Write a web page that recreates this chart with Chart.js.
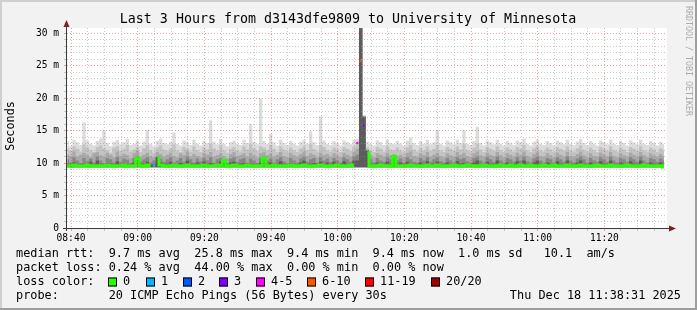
<!DOCTYPE html>
<html><head><meta charset="utf-8">
<script src="https://cdn.jsdelivr.net/npm/chart.js@4.4.1/dist/chart.umd.min.js"></script>
<style>
html,body{margin:0;padding:0;background:#f2f2f2;}
canvas{display:block;}
</style></head><body>
<canvas id="c" width="697" height="310"></canvas>
<script>
// ---- data (minutes after 08:00, one step per minute) ----
const firstStep = 38.9;
const stepMin = 1;
const smokeFloor = 9.35;

const smokeTop = [
13.4,12.6,13.6,13.2,12.8,16.3,13.5,13.0,12.7,13.4,
13.8,15.0,13.1,12.6,13.3,13.6,12.9,13.2,13.7,12.8,
13.0,13.5,12.7,13.3,15.1,13.0,12.6,13.4,13.8,13.1,
12.9,13.3,14.7,13.0,12.7,13.5,13.2,12.8,13.6,13.0,
12.7,13.4,13.1,16.6,13.3,12.9,13.7,13.0,12.6,13.2,
13.5,13.0,12.8,13.6,13.1,16.0,13.3,12.9,20.0,13.4,
13.0,14.5,13.2,12.7,13.6,13.1,12.8,13.4,13.0,12.7,
13.3,13.6,13.0,14.9,13.2,12.8,17.2,13.5,13.0,12.8,
13.4,13.1,12.7,13.5,13.2,12.9,13.6,13.7,31.0,17.3,
13.3,13.0,12.7,13.5,13.2,12.8,13.6,13.1,12.9,13.4,
13.0,12.7,13.5,13.9,13.1,12.8,13.4,13.0,13.6,12.9,
13.2,15.1,13.0,12.7,13.5,13.2,12.9,13.6,13.1,15.1,
13.0,12.8,13.4,15.6,13.1,12.7,13.5,13.2,12.9,13.6,
13.0,12.7,13.4,13.1,12.8,13.5,13.2,13.8,13.0,12.7,
13.3,13.6,13.0,12.8,13.4,13.1,12.7,13.5,13.2,12.9,
13.6,13.0,12.8,13.3,13.7,13.1,12.8,13.4,13.0,12.7,
13.5,13.2,12.9,13.6,13.0,12.8,13.4,13.1,12.7,13.5,
13.2,12.9,13.6,13.0,12.8,13.4,13.1,12.7,13.3,13.0];

const smokeUpper = [
12.3,11.9,12.6,12.2,11.8,12.9,12.4,12.0,11.7,12.5,
12.7,12.3,12.0,11.6,12.4,12.6,11.9,12.2,12.8,11.8,
12.1,12.5,11.7,12.3,12.8,12.0,11.6,12.4,12.7,12.1,
11.9,12.3,12.9,12.0,11.7,12.5,12.2,11.8,12.6,12.0,
11.7,12.4,12.1,13.0,12.3,11.9,12.7,12.0,11.6,12.2,
12.5,12.0,11.8,12.6,12.1,12.9,12.3,11.9,12.6,12.4,
12.0,12.8,12.2,11.7,12.6,12.1,11.8,12.4,12.0,11.7,
12.3,12.6,12.0,12.9,12.2,11.8,12.8,12.5,12.0,11.8,
12.4,12.1,11.7,12.5,12.2,11.9,12.6,12.9,31.0,17.3,
12.4,12.0,11.7,12.5,12.2,11.8,12.6,12.1,12.0,12.4,
12.0,11.7,12.5,12.8,12.1,11.8,12.4,12.0,12.6,11.9,
12.2,12.8,12.0,11.7,12.5,12.2,11.9,12.6,12.1,12.9,
12.0,11.8,12.4,13.0,12.1,11.7,12.5,12.2,11.9,12.6,
12.0,11.7,12.4,12.1,11.8,12.5,12.2,12.8,12.0,11.7,
12.3,12.6,12.0,11.8,12.4,12.1,11.7,12.5,12.2,11.9,
12.6,12.0,11.8,12.3,12.7,12.1,11.8,12.4,12.0,11.7,
12.5,12.2,11.9,12.6,12.0,11.8,12.4,12.1,11.7,12.5,
12.2,11.9,12.6,12.0,11.8,12.4,12.1,11.7,12.3,12.0];

const smokeMid = [
11.4,11.1,11.8,11.0,11.3,11.6,11.2,10.9,11.5,11.7,
11.2,11.0,11.6,11.3,10.9,11.8,11.1,11.4,11.2,10.8,
11.5,11.9,11.0,11.3,11.6,11.1,10.9,11.7,11.4,11.0,
11.3,11.6,11.1,10.9,11.5,11.2,11.8,11.0,11.4,11.1,
10.9,11.6,11.3,11.7,11.0,11.2,11.5,11.1,10.8,11.4,
11.7,11.1,11.3,11.5,11.0,11.6,11.2,10.9,11.5,11.7,
11.2,11.5,11.0,11.3,11.7,11.1,10.9,11.6,11.2,11.0,
11.4,11.8,11.1,11.5,11.3,10.9,11.6,11.2,11.4,11.0,
11.5,11.2,10.9,11.6,11.3,11.0,11.7,12.2,31.0,17.3,
12.1,11.2,10.9,11.5,11.3,11.0,11.6,11.2,11.4,11.1,
11.3,10.9,11.6,11.8,11.1,11.0,11.5,11.2,11.7,11.0,
11.3,11.6,11.1,10.9,11.5,11.2,11.0,11.7,11.3,11.6,
11.1,10.9,11.5,11.8,11.2,11.0,11.6,11.3,11.1,11.7,
11.2,10.9,11.5,11.3,11.0,11.6,11.2,11.8,11.1,10.9,
11.4,11.7,11.1,11.0,11.5,11.2,10.9,11.6,11.3,11.0,
11.7,11.1,11.0,11.4,11.8,11.2,10.9,11.5,11.1,11.0,
11.6,11.3,11.0,11.7,11.1,10.9,11.5,11.2,11.0,11.6,
11.3,11.0,11.7,11.2,10.9,11.5,11.2,11.0,11.4,11.1];

const smokeLower = [
10.6,10.1,10.9,10.4,10.0,10.8,10.3,10.7,10.1,11.0,
10.4,10.0,10.8,10.6,10.1,10.9,10.2,10.7,10.5,10.0,
10.8,11.0,10.3,10.6,10.9,10.1,10.4,11.0,10.7,10.2,
10.6,10.9,10.1,10.4,10.8,10.2,11.0,10.6,10.1,10.7,
10.3,10.8,10.4,10.9,10.1,10.6,10.8,10.6,10.0,10.7,
10.9,10.2,10.6,10.8,10.1,10.7,10.4,10.0,10.8,11.0,
10.4,10.7,10.1,10.6,10.9,10.3,10.0,10.8,10.4,10.1,
10.7,11.0,10.2,10.6,10.8,10.1,10.9,10.4,10.7,10.2,
10.8,10.4,10.1,10.9,10.6,10.2,11.0,11.3,30.9,17.2,
12.0,10.6,10.1,10.8,10.4,10.2,10.9,10.6,11.2,10.4,
10.7,10.1,10.9,10.6,10.2,10.1,10.8,10.4,10.9,10.2,
10.6,10.9,10.3,10.1,10.8,10.4,10.1,10.9,10.6,10.8,
10.3,10.1,10.8,11.0,10.4,10.1,10.9,10.6,10.2,11.0,
10.4,10.1,10.8,10.6,10.2,10.9,10.4,11.0,10.3,10.1,
10.7,11.0,10.4,10.1,10.8,10.6,10.1,10.9,10.6,10.2,
11.0,10.4,10.1,10.7,11.0,10.6,10.1,10.8,10.4,10.2,
10.9,10.6,10.2,11.0,10.4,10.1,10.8,10.6,10.2,10.9,
10.6,10.2,11.0,10.4,10.1,10.8,10.6,10.2,10.7,10.4];

const smokeCore = [
9.8,9.8,10.1,9.8,9.8,9.9,9.8,10.2,9.8,10.4,
9.8,9.8,10.0,9.9,9.8,10.3,9.8,9.9,9.8,9.8,
10.1,10.9,9.8,9.9,10.2,9.8,9.8,10.9,10.1,9.8,
9.9,10.2,9.8,9.8,10.0,9.8,10.4,9.9,9.8,10.1,
9.8,10.2,9.8,10.0,9.8,9.9,10.3,10.5,9.8,10.1,
10.2,9.8,9.9,10.0,9.8,9.9,9.8,9.8,10.1,10.9,
9.8,10.1,9.8,9.9,10.3,9.8,9.8,10.0,9.8,9.8,
10.1,10.4,9.8,9.9,10.0,9.8,10.2,9.8,10.1,9.8,
10.2,9.8,9.8,10.3,9.9,9.8,10.4,10.4,30.8,17.1,
11.9,9.9,9.8,10.1,9.8,9.8,10.2,9.9,11.1,9.8,
10.1,9.8,10.2,9.9,9.8,9.8,10.1,9.8,10.3,9.8,
9.9,10.2,9.8,9.8,10.1,9.8,9.8,10.3,9.9,10.0,
9.8,9.8,10.1,10.4,9.8,9.8,10.2,9.9,9.8,10.4,
9.8,9.8,10.1,9.9,9.8,10.3,9.8,10.4,9.8,9.8,
10.1,10.4,9.8,9.8,10.1,9.9,9.8,10.3,9.9,9.8,
10.4,9.8,9.8,10.1,10.4,9.9,9.8,10.1,9.8,9.8,
10.3,9.9,9.8,10.4,9.8,9.8,10.1,9.9,9.8,10.3,
9.9,9.8,10.4,9.8,9.8,10.1,9.9,9.8,10.1,9.8];

const medianRtt = [
9.6,9.5,9.7,9.6,9.5,9.6,9.7,9.5,9.6,9.6,
9.5,9.6,9.7,9.6,9.5,9.6,9.6,9.7,9.5,9.6,
9.6,10.7,9.6,9.5,9.7,9.6,9.6,10.8,9.7,9.6,
9.5,9.6,9.7,9.6,9.5,9.6,9.7,9.6,9.5,9.6,
9.6,9.7,9.5,9.6,9.6,9.7,9.6,10.4,9.5,9.6,
9.7,9.6,9.5,9.6,9.7,9.6,9.5,9.6,9.6,10.8,
9.6,9.5,9.7,9.6,9.6,9.5,9.6,9.7,9.6,9.5,
9.6,9.7,9.6,9.5,9.6,9.6,9.7,9.6,9.5,9.6,
9.6,9.7,9.5,9.6,9.6,9.7,9.6,13.1,25.8,15.9,
11.6,9.6,9.5,9.6,9.7,9.6,9.6,9.5,11.0,9.6,
9.6,9.5,9.6,9.7,9.6,9.6,9.5,9.6,9.7,9.6,
9.6,9.7,9.6,9.5,9.6,9.6,9.7,9.6,9.5,9.6,
9.7,9.6,9.6,9.5,9.6,9.7,9.6,9.6,9.5,9.6,
9.7,9.6,9.6,9.7,9.5,9.6,9.7,9.6,9.6,9.7,
9.6,9.5,9.6,9.7,9.6,9.6,9.7,9.5,9.6,9.6,
9.7,9.6,9.5,9.6,9.7,9.6,9.6,9.5,9.6,9.7,
9.6,9.6,9.5,9.7,9.6,9.6,9.5,9.6,9.7,9.6,
9.6,9.5,9.6,9.7,9.6,9.6,9.5,9.6,9.6,9.4];

// steps with lost pings: index of step and number of lost pings (of 20)
const lossIndex = [26, 87, 88, 89];
const lossPings = [1, 4, 8, 3];

const lossLabels = ['0','1','2','3','4-5','6-10','11-19','20/20'];
const lossColors = ['#26ff00','#00b8ff','#0059ff','#7e00ff','#ff00ff','#ff5500','#ff0000','#a10000'];
const lossUpper  = [0,1,2,3,5,10,19,20];

const xTickMinutes = [40,45,50,55,60,65,70,75,80,85,90,95,100,105,110,115,120,125,130,135,140,145,150,155,160,165,170,175,180,185,190,195,200,205,210,215];
const xLabelMinutes = [40,60,80,100,120,140,160,180,200];
const xTickLabels = ['08:40','09:00','09:20','09:40','10:00','10:20','10:40','11:00','11:20'];
const yTickValues = [0,1,2,3,4,5,6,7,8,9,10,11,12,13,14,15,16,17,18,19,20,21,22,23,24,25,26,27,28,29,30];
const yLabelValues = [0,5,10,15,20,25,30];
const yTickLabels = ['0','5 m','10 m','15 m','20 m','25 m','30 m'];

const titleText = 'Last 3 Hours from d3143dfe9809 to University of Minnesota';
const yTitle = 'Seconds';
const sideText = 'RRDTOOL / TOBI OETIKER';
const legendRows = [
  'median rtt:  9.7 ms avg  25.8 ms max  9.4 ms min  9.4 ms now  1.0 ms sd   10.1  am/s',
  'packet loss: 0.24 % avg  44.00 % max  0.00 % min  0.00 % now',
  'loss color:',
  'probe:       20 ICMP Echo Pings (56 Bytes) every 30s'
];
const stampText = 'Thu Dec 18 11:38:31 2025';

// ---- build ----
const xs = medianRtt.map((_, i) => firstStep + i * stepMin);
const pts = arr => arr.map((v, i) => ({x: xs[i], y: v}));
const lossColorFor = n => lossColors[lossUpper.findIndex(u => n <= u)];

const bands = [smokeTop, smokeUpper, smokeMid, smokeLower, smokeCore];
const bandColors = ['#dcdcdc', '#c3c3c3', '#a8a8a8', '#878787', '#5c5c5c'];

const datasets = bands.map((arr, k) => ({
  data: pts(arr), stepped: 'middle', borderWidth: 0, borderColor: 'rgba(0,0,0,0)',
  pointRadius: 0, fill: {value: smokeFloor}, backgroundColor: bandColors[k], order: 10 - k
}));
datasets.push({
  data: medianRtt.map((v, i) => ({x: xs[i], y: lossIndex.includes(i) ? null : v})),
  stepped: 'middle', borderWidth: 3, borderColor: lossColors[0], pointRadius: 0,
  fill: false, spanGaps: false, order: 1
});
datasets.push({
  data: lossIndex.map(i => ({x: xs[i], y: medianRtt[i]})),
  showLine: false, pointStyle: 'rect', pointRadius: 1.6, pointBorderWidth: 0,
  pointBackgroundColor: lossPings.map(lossColorFor), order: 0
});

const MONO = '"DejaVu Sans Mono", "Liberation Mono", monospace';
const isMajor = (v, step) => Math.abs(v / step - Math.round(v / step)) < 1e-6;
const GRID = 'rgba(150,150,150,0.5)';
const MGRID = 'rgba(225,70,70,0.5)';

const decor = {
  id: 'decor',
  beforeDraw(chart) {
    const {ctx, chartArea: a} = chart;
    ctx.save();
    ctx.fillStyle = '#f2f2f2'; ctx.fillRect(0, 0, 697, 310);
    ctx.fillStyle = '#ffffff'; ctx.fillRect(a.left, a.top, a.right - a.left, a.bottom - a.top);
    ctx.restore();
  },
  afterDraw(chart) {
    const {ctx, chartArea: a} = chart;
    ctx.save();
    // frame
    ctx.fillStyle = '#cfcfcf'; ctx.fillRect(0, 0, 697, 2); ctx.fillRect(0, 0, 2, 310);
    ctx.fillStyle = '#9e9e9e'; ctx.fillRect(0, 308, 697, 2); ctx.fillRect(695, 0, 2, 310);
    // axes
    ctx.strokeStyle = '#3a3a3a'; ctx.lineWidth = 1;
    ctx.beginPath();
    ctx.moveTo(a.left - 0.5, a.bottom + 3); ctx.lineTo(a.left - 0.5, a.top - 6);
    ctx.moveTo(a.left - 4, a.bottom + 0.5); ctx.lineTo(a.right + 5, a.bottom + 0.5);
    ctx.stroke();
    ctx.fillStyle = '#801f1f';
    ctx.beginPath();
    ctx.moveTo(a.left - 0.5, a.top - 8); ctx.lineTo(a.left - 3.5, a.top - 1); ctx.lineTo(a.left + 2.5, a.top - 1); ctx.closePath(); ctx.fill();
    ctx.beginPath();
    ctx.moveTo(a.right + 9, a.bottom + 0.5); ctx.lineTo(a.right + 2, a.bottom - 2.5); ctx.lineTo(a.right + 2, a.bottom + 3.5); ctx.closePath(); ctx.fill();
    // title
    ctx.fillStyle = '#000';
    ctx.textBaseline = 'middle';
    ctx.textAlign = 'center';
    ctx.font = '13.3px ' + MONO;
    ctx.fillText(titleText, 348, 20);
    // y title
    ctx.save();
    ctx.translate(11, 126); ctx.rotate(-Math.PI / 2);
    ctx.font = '11.8px ' + MONO;
    ctx.fillText(yTitle, 0, 0);
    ctx.restore();
    // side text
    ctx.save();
    ctx.translate(688, 6); ctx.rotate(Math.PI / 2);
    ctx.textAlign = 'left';
    ctx.fillStyle = '#ababab';
    ctx.font = '8.3px ' + MONO;
    ctx.fillText(sideText, 0, 0);
    ctx.restore();
    // legend
    ctx.textAlign = 'left';
    ctx.font = '11.85px ' + MONO;
    const rowY = [254, 268, 282, 296];
    legendRows.forEach((t, r) => ctx.fillText(t, 16, rowY[r]));
    const boxX = [108, 146, 183, 219, 256, 307, 365, 431];
    lossLabels.forEach((lab, k) => {
      ctx.fillStyle = lossColors[k];
      ctx.fillRect(boxX[k], rowY[2] - 4.5, 9, 9);
      ctx.strokeStyle = '#000'; ctx.lineWidth = 1;
      ctx.strokeRect(boxX[k] + 0.5, rowY[2] - 4, 8, 8);
      ctx.fillStyle = '#000';
      ctx.fillText(lab, boxX[k] + 15, rowY[2]);
    });
    ctx.textAlign = 'right';
    ctx.fillText(stampText, 681, rowY[3]);
    ctx.restore();
  }
};

new Chart(document.getElementById('c'), {
  type: 'line',
  data: {datasets},
  options: {
    responsive: false, animation: false, devicePixelRatio: 1,
    layout: {padding: {left: 0, top: 28, right: 30, bottom: 68}},
    plugins: {legend: {display: false}, tooltip: {enabled: false}, title: {display: false}},
    elements: {point: {radius: 0}},
    scales: {
      x: {
        type: 'linear', min: 38.8, max: 218.8,
        afterBuildTicks: s => { s.ticks = xTickMinutes.map(v => ({value: v})); },
        afterFit: s => { s.height = 14; },
        grid: {z: 1, lineWidth: 1, tickLength: 3,
          color: c => (c.tick && isMajor(c.tick.value, 20)) ? MGRID : GRID,
          tickColor: c => (c.tick && isMajor(c.tick.value, 20)) ? MGRID : GRID},
        border: {display: false, dash: [1, 2]},
        ticks: {autoSkip: false, maxRotation: 0, minRotation: 0, padding: 2, color: '#000',
          font: {family: MONO, size: 9.6},
          callback: v => { const k = xLabelMinutes.indexOf(v); return k >= 0 ? xTickLabels[k] : ''; }}
      },
      y: {
        type: 'linear', min: 0, max: 30.82,
        afterBuildTicks: s => { s.ticks = yTickValues.map(v => ({value: v})); },
        afterFit: s => { s.width = 67; },
        grid: {z: 1, lineWidth: 1, tickLength: 3,
          color: c => (c.tick && isMajor(c.tick.value, 5)) ? MGRID : GRID,
          tickColor: c => (c.tick && isMajor(c.tick.value, 5)) ? MGRID : GRID},
        border: {display: false, dash: [1, 2]},
        ticks: {autoSkip: false, padding: 5, color: '#000', font: {family: MONO, size: 9.6},
          callback: v => { const k = yLabelValues.indexOf(v); return k >= 0 ? yTickLabels[k] : ''; }}
      }
    }
  },
  plugins: [decor]
});
</script>
</body></html>
